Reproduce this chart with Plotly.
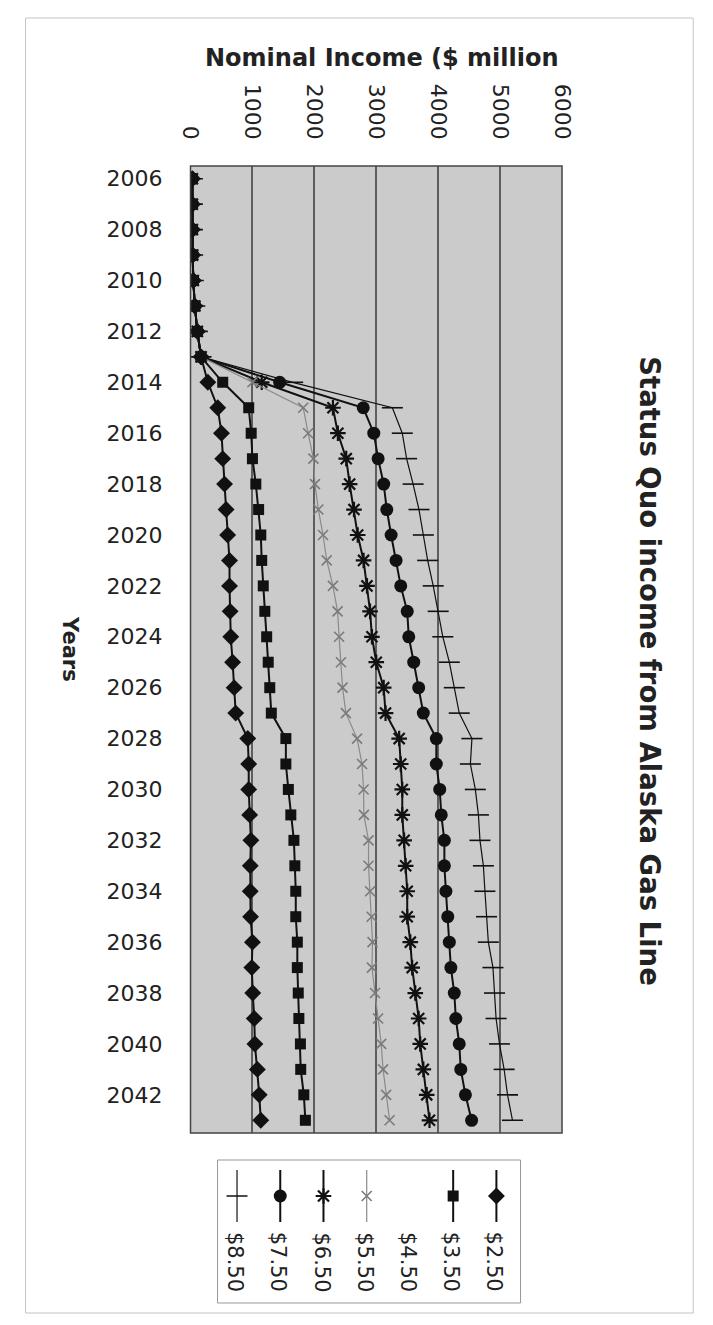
import plotly.graph_objects as go

W, H = 713, 1325

years = list(range(2006, 2044))
year_ticks = list(range(2006, 2043, 2))
income_ticks = [0, 1000, 2000, 3000, 4000, 5000, 6000]

series_names = ["$2.50", "$3.50", "$4.50", "$5.50", "$6.50", "$7.50", "$8.50"]

inc_250 = [30, 30, 30, 35, 45, 70, 110, 170, 280, 440, 500, 520, 550, 575, 600, 630,
           630, 640, 650, 680, 705, 730, 925, 940, 940, 955, 975, 965, 965, 970, 1000,
           990, 1005, 1030, 1040, 1080, 1110, 1135]
inc_350 = [30, 30, 30, 35, 45, 70, 110, 170, 520, 940, 980, 1000, 1055, 1100, 1135, 1150,
           1175, 1200, 1230, 1255, 1280, 1305, 1540, 1540, 1580, 1620, 1670, 1685, 1700,
           1700, 1725, 1725, 1740, 1750, 1775, 1780, 1830, 1855]
# $4.50 series is not visible in the scanned chart (only its legend label shows)
inc_450 = [None] * len(years)
inc_550 = [30, 30, 30, 35, 45, 70, 110, 170, 1000, 1820, 1900, 1985, 2010, 2065, 2140, 2200,
           2300, 2375, 2400, 2430, 2455, 2510, 2690, 2770, 2795, 2800, 2875, 2875, 2900,
           2925, 2940, 2930, 2980, 3030, 3080, 3110, 3160, 3215]
inc_650 = [30, 30, 30, 35, 45, 70, 110, 170, 1150, 2300, 2380, 2515, 2570, 2640, 2700, 2795,
           2850, 2900, 2930, 3000, 3120, 3150, 3370, 3395, 3420, 3420, 3450, 3475, 3500,
           3500, 3550, 3580, 3630, 3685, 3710, 3760, 3815, 3860]
inc_750 = [30, 30, 30, 35, 45, 70, 110, 170, 1440, 2790, 2960, 3030, 3120, 3170, 3240, 3320,
           3395, 3500, 3525, 3605, 3685, 3760, 3970, 3970, 4025, 4050, 4100, 4100, 4125,
           4155, 4180, 4205, 4260, 4285, 4340, 4365, 4440, 4540]
inc_850 = [30, 30, 30, 35, 45, 70, 110, 170, 1650, 3260, 3420, 3490, 3595, 3690, 3760, 3830,
           3920, 4000, 4075, 4180, 4260, 4340, 4545, 4520, 4600, 4650, 4675, 4730, 4755,
           4780, 4810, 4885, 4910, 4935, 4990, 5065, 5120, 5200]

values = [inc_250, inc_350, inc_450, inc_550, inc_650, inc_750, inc_850]

BLK = "#111111"
styles = {
    "$2.50": dict(line=dict(color=BLK, width=2),
                  marker=dict(symbol="diamond", size=13, color=BLK)),
    "$3.50": dict(line=dict(color=BLK, width=2),
                  marker=dict(symbol="square", size=11, color=BLK)),
    "$4.50": dict(line=dict(color="rgba(0,0,0,0)", width=1),
                  marker=dict(symbol="circle", size=1, color="rgba(0,0,0,0)")),
    "$5.50": dict(line=dict(color="#8a8a8a", width=1.2),
                  marker=dict(symbol="x-thin-open", size=10, color="#7a7a7a",
                              line=dict(color="#7a7a7a", width=1.6))),
    "$6.50": dict(line=dict(color=BLK, width=2),
                  marker=dict(symbol="asterisk-open", size=13, color=BLK,
                              line=dict(color=BLK, width=2.2))),
    "$7.50": dict(line=dict(color=BLK, width=2),
                  marker=dict(symbol="circle", size=13, color=BLK)),
    "$8.50": dict(line=dict(color=BLK, width=1.2),
                  marker=dict(symbol="line-ew-open", size=15, color=BLK,
                              line=dict(color=BLK, width=1.6))),
}

def px_x(p):
    return p / W

def px_y(p):
    return 1 - p / H

FONT = "DejaVu Sans"
fig = go.Figure()

draw_order = ["$8.50", "$7.50", "$6.50", "$5.50", "$4.50", "$2.50", "$3.50"]
for name in draw_order:
    vals = values[series_names.index(name)]
    st = styles[name]
    fig.add_trace(go.Scatter(x=vals, y=years, mode="lines+markers", name=name,
                             line=st["line"], marker=st["marker"],
                             showlegend=False, xaxis="x", yaxis="y"))

# legend samples (manual, rotated legend as in the scan)
LEG_L, LEG_R, LEG_T, LEG_B = 213, 527, 1160, 1303
COL0, COLSTEP = 502, 44.8
for i, name in enumerate(series_names):
    st = styles[name]
    if name != "$4.50":
        fig.add_trace(go.Scatter(x=[i, i], y=[0, 1], mode="lines", line=st["line"],
                                 showlegend=False, xaxis="x2", yaxis="y2", hoverinfo="skip"))
        fig.add_trace(go.Scatter(x=[i], y=[0.5], mode="markers", marker=st["marker"],
                                 showlegend=False, xaxis="x2", yaxis="y2", hoverinfo="skip"))

annotations = []
for i, name in enumerate(series_names):
    annotations.append(dict(x=px_x(COL0 - COLSTEP * i - 2), y=px_y(1262), xref="paper",
                            yref="paper", text=name.replace("$", "&#36;"), showarrow=False,
                            textangle=90, xanchor="center", yanchor="middle",
                            font=dict(family=FONT, size=21, color="#222")))

annotations += [
    dict(x=px_x(383), y=px_y(58), xref="paper", yref="paper",
         text="<b>Nominal Income (&#36; million</b>", showarrow=False,
         xanchor="center", yanchor="middle", font=dict(family=FONT, size=24, color="#222")),
    dict(x=px_x(661), y=px_y(671), xref="paper", yref="paper",
         text="<b>Status Quo income from Alaska Gas Line</b>", showarrow=False, textangle=90,
         xanchor="center", yanchor="middle", font=dict(family=FONT, size=27.5, color="#222")),
    dict(x=px_x(60), y=px_y(649), xref="paper", yref="paper",
         text="<b>Years</b>", showarrow=False, textangle=90,
         xanchor="center", yanchor="middle", font=dict(family=FONT, size=21, color="#222")),
]

PL, PR, PT, PB = 185, 570, 166, 1133
shapes = [
    dict(type="rect", xref="paper", yref="paper", x0=px_x(PL), x1=px_x(PR),
         y0=px_y(PB), y1=px_y(PT), line=dict(width=0), fillcolor="#cbcbcb", layer="below"),
    dict(type="rect", xref="paper", yref="paper", x0=px_x(PL), x1=px_x(PR),
         y0=px_y(PB), y1=px_y(PT), line=dict(color="#444", width=1.5), layer="above"),
    dict(type="rect", xref="paper", yref="paper", x0=px_x(LEG_L), x1=px_x(LEG_R),
         y0=px_y(LEG_B), y1=px_y(LEG_T), line=dict(color="#999", width=1)),
    dict(type="rect", xref="paper", yref="paper", x0=px_x(14), x1=px_x(706),
         y0=px_y(1313), y1=px_y(18), line=dict(color="#c4c4c4", width=1)),
]

fig.update_layout(
    width=W, height=H, margin=dict(l=0, r=0, t=0, b=0),
    paper_bgcolor="white", plot_bgcolor="rgba(0,0,0,0)",
    showlegend=False,
    font=dict(family=FONT, color="#222"),
    xaxis=dict(domain=[px_x(PL), px_x(PR)], range=[0, 6000], side="top",
               tickvals=income_ticks, tickangle=90, ticks="", ticklabelstandoff=22,
               showgrid=True, gridcolor="#5e5e5e", gridwidth=2, zeroline=False,
               showline=False, tickfont=dict(family=FONT, size=22, color="#222")),
    yaxis=dict(domain=[px_y(PB), px_y(PT)], range=[2043.5, 2005.5],
               tickvals=year_ticks, ticks="", ticklabelstandoff=27, showgrid=False,
               zeroline=False, showline=False,
               tickfont=dict(family=FONT, size=22, color="#222")),
    xaxis2=dict(domain=[px_x(LEG_L), px_x(LEG_R)],
                range=[(COL0 - LEG_L) / COLSTEP, (COL0 - LEG_R) / COLSTEP],
                visible=False, anchor="y2"),
    yaxis2=dict(domain=[px_y(1222), px_y(1170)], range=[1, 0], visible=False, anchor="x2"),
    annotations=annotations, shapes=shapes,
)

fig.write_html("out.html")
